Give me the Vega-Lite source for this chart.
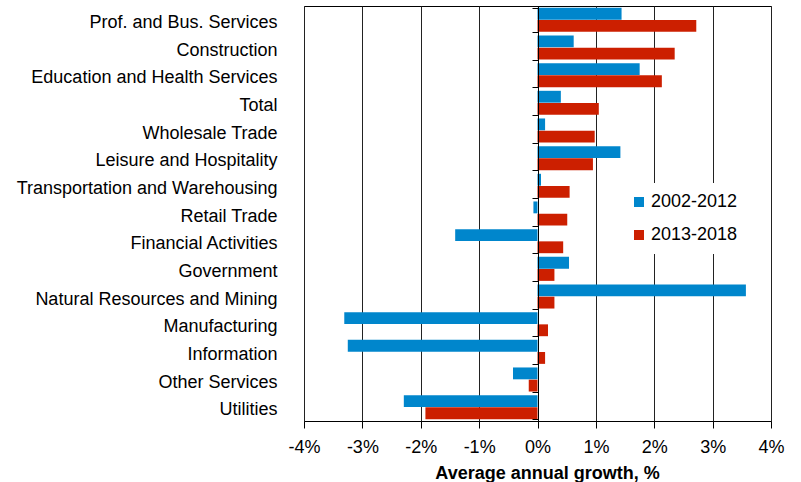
{
  "$schema": "https://vega.github.io/schema/vega-lite/v6.json",
  "width": 467,
  "height": 415,
  "autosize": {"type": "none"},
  "padding": {"left": 304, "top": 6, "right": 30, "bottom": 61},
  "config": {
    "font": "Liberation Sans",
    "view": {"stroke": "#000000", "strokeWidth": 1}
  },
  "data": {
    "values": [
      {"sector": "Prof. and Bus. Services", "period": "2002-2012", "growth": 1.44},
      {"sector": "Prof. and Bus. Services", "period": "2013-2018", "growth": 2.72},
      {"sector": "Construction", "period": "2002-2012", "growth": 0.62},
      {"sector": "Construction", "period": "2013-2018", "growth": 2.35},
      {"sector": "Education and Health Services", "period": "2002-2012", "growth": 1.75},
      {"sector": "Education and Health Services", "period": "2013-2018", "growth": 2.13},
      {"sector": "Total", "period": "2002-2012", "growth": 0.40},
      {"sector": "Total", "period": "2013-2018", "growth": 1.05},
      {"sector": "Wholesale Trade", "period": "2002-2012", "growth": 0.13},
      {"sector": "Wholesale Trade", "period": "2013-2018", "growth": 0.98},
      {"sector": "Leisure and Hospitality", "period": "2002-2012", "growth": 1.42},
      {"sector": "Leisure and Hospitality", "period": "2013-2018", "growth": 0.95},
      {"sector": "Transportation and Warehousing", "period": "2002-2012", "growth": 0.06},
      {"sector": "Transportation and Warehousing", "period": "2013-2018", "growth": 0.55},
      {"sector": "Retail Trade", "period": "2002-2012", "growth": -0.07},
      {"sector": "Retail Trade", "period": "2013-2018", "growth": 0.51},
      {"sector": "Financial Activities", "period": "2002-2012", "growth": -1.41},
      {"sector": "Financial Activities", "period": "2013-2018", "growth": 0.44},
      {"sector": "Government", "period": "2002-2012", "growth": 0.54},
      {"sector": "Government", "period": "2013-2018", "growth": 0.29},
      {"sector": "Natural Resources and Mining", "period": "2002-2012", "growth": 3.57},
      {"sector": "Natural Resources and Mining", "period": "2013-2018", "growth": 0.29},
      {"sector": "Manufacturing", "period": "2002-2012", "growth": -3.31},
      {"sector": "Manufacturing", "period": "2013-2018", "growth": 0.18},
      {"sector": "Information", "period": "2002-2012", "growth": -3.25},
      {"sector": "Information", "period": "2013-2018", "growth": 0.13},
      {"sector": "Other Services", "period": "2002-2012", "growth": -0.42},
      {"sector": "Other Services", "period": "2013-2018", "growth": -0.15},
      {"sector": "Utilities", "period": "2002-2012", "growth": -2.29},
      {"sector": "Utilities", "period": "2013-2018", "growth": -1.92}
    ]
  },
  "resolve": {"axis": {"y": "independent"}},
  "layer": [
    {
      "mark": {"type": "bar"},
      "encoding": {
        "x": {
          "field": "growth",
          "type": "quantitative",
          "scale": {"domain": [-4, 4], "nice": false, "zero": false},
          "axis": {
            "values": [-4, -3, -2, -1, 0, 1, 2, 3, 4],
            "labelExpr": "datum.value + '%'",
            "title": "Average annual growth, %",
            "titleFont": "Liberation Sans",
            "titleFontSize": 18,
            "titleFontWeight": "bold",
            "titleColor": "#000000",
            "titleX": 243,
            "titleY": 57,
            "titleBaseline": "alphabetic",
            "labelFontSize": 18,
            "labelColor": "#000000",
            "labelBaseline": "alphabetic",
            "labelPadding": 24,
            "labelFlush": false,
            "tickSize": 7,
            "tickColor": "#000000",
            "domain": false,
            "grid": true,
            "gridColor": "#222222",
            "gridWidth": 1,
            "gridOpacity": 1
          }
        },
        "y": {
          "field": "sector",
          "type": "nominal",
          "sort": null,
          "scale": {"paddingInner": 0.13, "paddingOuter": 0.065},
          "axis": {
            "orient": "left",
            "title": null,
            "domain": false,
            "ticks": false,
            "labelFontSize": 18,
            "labelColor": "#000000",
            "labelPadding": 27,
            "labelOffset": 3,
            "labelLimit": 400
          }
        },
        "yOffset": {
          "field": "period",
          "type": "nominal",
          "sort": null,
          "scale": {"paddingInner": 0.03}
        },
        "color": {
          "field": "period",
          "type": "nominal",
          "scale": {"domain": ["2002-2012", "2013-2018"], "range": ["#0086CC", "#CC1F00"]},
          "legend": {
            "title": null,
            "orient": "none",
            "legendX": 316,
            "legendY": 177,
            "padding": 10,
            "fillColor": "#ffffff",
            "symbolType": "square",
            "symbolSize": 100,
            "symbolStrokeWidth": 0,
            "labelFontSize": 18,
            "labelColor": "#000000",
            "labelOffset": 3,
            "rowPadding": 15
          }
        }
      }
    },
    {
      "mark": {"type": "bar", "opacity": 0},
      "encoding": {
        "x": {"field": "growth", "type": "quantitative"},
        "y": {
          "field": "sector",
          "type": "nominal",
          "sort": null,
          "axis": {
            "orient": "left",
            "offset": -234,
            "title": null,
            "labels": false,
            "grid": false,
            "domain": true,
            "domainColor": "#000000",
            "domainWidth": 1,
            "ticks": true,
            "tickBand": "extent",
            "tickSize": 6,
            "tickColor": "#000000",
            "zindex": 2
          }
        }
      }
    }
  ]
}
